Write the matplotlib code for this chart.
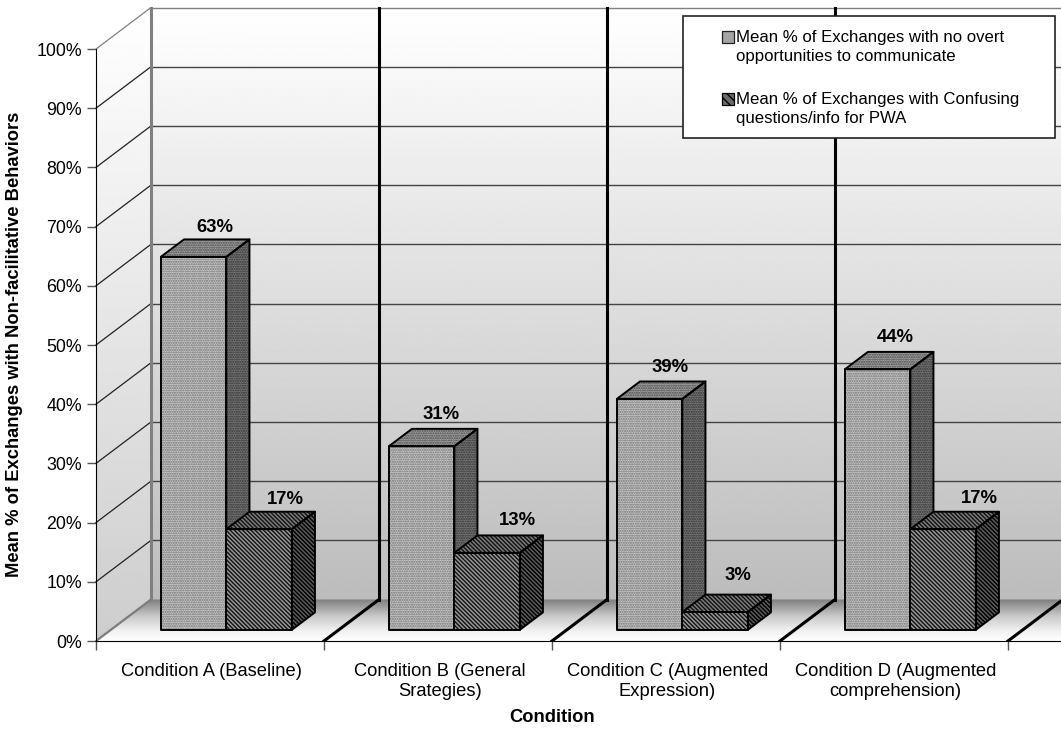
import matplotlib
matplotlib.use('Agg')
import matplotlib.pyplot as plt
import numpy as np
from matplotlib.legend_handler import HandlerPatch
from matplotlib.patches import Patch, Polygon, Rectangle

plt.rcParams['font.family'] = ['Liberation Sans', 'DejaVu Sans']

conditions = ['Condition A (Baseline)', 'Condition B (General\nSrategies)',
              'Condition C (Augmented\nExpression)', 'Condition D (Augmented\ncomprehension)']
no_overt = [63, 31, 39, 44]
confusing = [17, 13, 3, 17]
series_names = ['Mean % of Exchanges with no overt\nopportunities to communicate',
                'Mean % of Exchanges with Confusing\nquestions/info for PWA']
y_ticks = list(range(0, 101, 10))

W, H = 1061, 729
fig = plt.figure(figsize=(W / 100, H / 100), dpi=100)
# front plane of the 3-D box: x in categories, y in percent
ax = fig.add_axes([96 / W, 1 - 641 / H, (W - 96) / W, 592 / H])
x_max = (W - 96) / 228
ax.set_xlim(0, x_max)
ax.set_ylim(0, 100)

DX = 55 / 228     # depth shift of the back wall, in category units
DY = 41.5 / 5.92  # same, in percent


def proj(x, y, d):
    return x + DX * d, y + DY * d


def gradient(stops, poly, extent):
    # vertical grey ramp clipped to a polygon
    ramp = np.interp(np.linspace(0, 1, 256), [s[0] for s in stops], [s[1] for s in stops])
    im = ax.imshow(ramp[:, None], cmap='gray', vmin=0, vmax=255, aspect='auto',
                   extent=extent, origin='upper', zorder=1, interpolation='bilinear')
    im.set_clip_box(fig.bbox)
    im.set_clip_path(Polygon(poly, closed=True, transform=ax.transData))


xb0, yb0 = proj(0, 0, 1)
xb1, yb1 = proj(0, 100, 1)

# back wall, side wall and floor
gradient([(0, 255), (1, 188)], [(xb0, yb0), (xb1, yb1), (x_max, yb1), (x_max, yb0)],
         (xb0, x_max, yb0, yb1))
gradient([(0, 255), (1, 205)], [(0, 0), (0, 100), (xb1, yb1), (xb0, yb0)],
         (0, xb0, 0, yb1))
gradient([(0, 125), (0.4, 200), (0.75, 240), (1, 255)],
         [(0, 0), (xb0, yb0), (x_max, yb0), (x_max, 0)], (0, x_max, 0, yb0))
ax.set_xlim(0, x_max)
ax.set_ylim(0, 100)

# gridlines on both walls
for v in y_ticks:
    xa, ya = proj(0, v, 0)
    xc, yc = proj(0, v, 1)
    col = '#808080' if v == 100 else '#222222'
    ax.plot([xa, xc], [ya, yc], color=col, lw=0.9, zorder=2, clip_on=False)
    if v > 0:
        ax.plot([xc, x_max], [yc, yc], color='#808080' if v == 100 else '#444444',
                lw=1.0, zorder=2, clip_on=False)
ax.plot([xb0, xb0], [yb0, yb1], color='#808080', lw=2.2, zorder=3, clip_on=False)
ax.plot([0, xb0], [0, yb0], color='#808080', lw=1.6, zorder=3)

# heavy separators between the conditions
for i in range(1, 5):
    xa, ya = proj(i, 0, 0)
    xc, yc = proj(i, 0, 1)
    xt, yt = proj(i, 100, 1)
    ax.plot([xa, xc], [ya, yc], color='black', lw=2.2, zorder=3, clip_on=True)
    ax.plot([xc, xt], [yc, yt], color='black', lw=2.2, zorder=3, clip_on=False)


def face(points, fc, hatch_col, hatch, z):
    ax.add_patch(Polygon(points, closed=True, facecolor=fc, edgecolor=hatch_col,
                         hatch=hatch, lw=0, zorder=z))
    ax.add_patch(Polygon(points, closed=True, fill=False, edgecolor='black', lw=1.4,
                         zorder=z + 0.1, joinstyle='round'))


def bar3d(left, width, value, styles, z):
    d0, d1 = 0.27, 0.69
    right = left + width
    front = [proj(left, 0, d0), proj(left, value, d0), proj(right, value, d0), proj(right, 0, d0)]
    top = [proj(left, value, d0), proj(left, value, d1), proj(right, value, d1), proj(right, value, d0)]
    side = [proj(right, 0, d0), proj(right, value, d0), proj(right, value, d1), proj(right, 0, d1)]
    face(side, *styles[2], z)
    face(top, *styles[1], z)
    face(front, *styles[0], z)


light_styles = [('#c8c8c8', '#707070', '.......'),
                ('#a0a0a0', '#4a4a4a', '.......'),
                ('#787878', '#303030', '.......')]
dark_styles = [('#969696', '#111111', '\\\\\\\\\\\\\\\\'),
               ('#7a7a7a', '#111111', '\\\\\\\\\\\\\\\\'),
               ('#5a5a5a', '#000000', '\\\\\\\\\\\\\\\\')]

bar_w = 65.5 / 228
gap = 50 / 228
label_shift_a = [21, 19, 20, 18]
label_shift_b = [26, 30, 23, 36]
label_up_a = [29, 32, 31, 32]
label_up_b = [30, 32, 37, 31]
for i in range(len(conditions)):
    left = i + gap
    bar3d(left, bar_w, no_overt[i], light_styles, 5 + i)
    bar3d(left + bar_w, bar_w, confusing[i], dark_styles, 5.5 + i)
    xa, ya = proj(left + bar_w / 2, no_overt[i], 0.27)
    xb, yb = proj(left + 1.5 * bar_w, confusing[i], 0.27)
    ax.annotate(f'{no_overt[i]}%', (xa, ya), xytext=(label_shift_a[i] * 0.72, label_up_a[i] * 0.72),
                textcoords='offset points', ha='center', va='center',
                fontsize=13.3, fontweight='bold', zorder=20, annotation_clip=False)
    ax.annotate(f'{confusing[i]}%', (xb, yb), xytext=(label_shift_b[i] * 0.72, label_up_b[i] * 0.72),
                textcoords='offset points', ha='center', va='center',
                fontsize=13.3, fontweight='bold', zorder=20, annotation_clip=False)

# axes furniture
for s in ['top', 'right']:
    ax.spines[s].set_visible(False)
ax.spines['left'].set_zorder(4)
ax.spines['bottom'].set_zorder(4)
ax.set_yticks(y_ticks)
ax.set_yticklabels([f'{v}%' for v in y_ticks], fontsize=12.8)
ax.tick_params(axis='y', length=6.5, width=1, color='#555555', pad=3.5)
ax.set_xticks(range(0, 5))
ax.set_xticklabels([])
ax.tick_params(axis='x', which='major', length=6.5, width=1, color='#555555')
ax.set_xticks(np.arange(len(conditions)) + 0.507, minor=True)
ax.set_xticklabels(conditions, minor=True, fontsize=13.25, linespacing=1.22)
ax.tick_params(axis='x', which='minor', length=0, pad=16)
ax.set_xlabel('Condition', fontsize=13.2, fontweight='bold')
ax.xaxis.set_label_coords(0.4725, -0.115)
fig.text(15 / W, 1 - 344.5 / H, 'Mean % of Exchanges with Non-facilitative Behaviors', rotation=90,
         ha='center', va='center', fontsize=13.25, fontweight='bold')

# legend box sits over the back wall
box = Rectangle((683 / W, 1 - 138 / H), 372 / W, 122 / H, transform=fig.transFigure,
                facecolor='white', edgecolor='#222222', lw=1.2, zorder=30, clip_on=False)
ax.add_patch(box)


def swatch(legend, orig_handle, xdescent, ydescent, width, height, fontsize):
    # key lines up with the first text line of each entry
    return Rectangle((-xdescent, -ydescent + 0.6 * fontsize), width, height)


handles = [Patch(facecolor='#a4a4a4', edgecolor='#222222', lw=0.9),
           Patch(facecolor='#6a6a6a', edgecolor='black', hatch='\\\\\\\\', lw=0.9)]
leg = ax.legend(handles, series_names, loc='center', frameon=False, fontsize=12.1,
                bbox_to_anchor=(685 / W, 1 - 139 / H, 372 / W, 122 / H),
                bbox_transform=fig.transFigure, handlelength=0.72, handleheight=0.72,
                handletextpad=0.12, labelspacing=1.65, labelcolor='black',
                handler_map={Patch: HandlerPatch(patch_func=swatch)})
leg.set_zorder(31)
for t in leg.get_texts():
    t.set_linespacing(1.32)

fig.savefig('out.png', dpi=100)
